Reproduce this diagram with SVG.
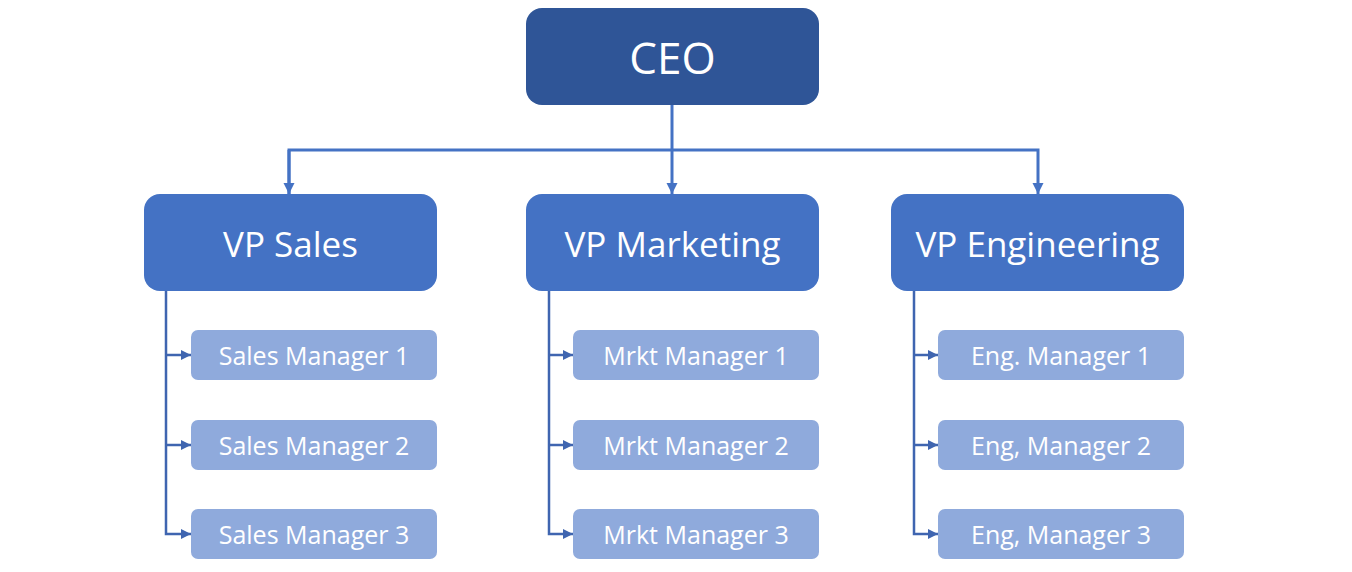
<svg xmlns="http://www.w3.org/2000/svg" width="1352" height="572" viewBox="0 0 1352 572">
<style>
.ceo{fill:#2F5597}
.vp{fill:#4472C4}
.mg{fill:#8FAADC}
text{font-family:"Open Sans","Noto Sans",sans-serif;fill:#fff;text-anchor:middle;dominant-baseline:central}
.t1{font-size:44px}
.t2{font-size:35px}
.t3{font-size:25px}
.c1{fill:none;stroke:#4472C4;stroke-width:3}
.c2{fill:none;stroke:#3F65B0;stroke-width:2.5}
</style>
<defs>
<marker id="a1" viewBox="0 0 10 10" refX="10" refY="5" markerWidth="11" markerHeight="12" markerUnits="userSpaceOnUse" orient="auto"><path d="M0,0 L10,5 L0,10 Z" fill="#4472C4"/></marker>
<marker id="a2" viewBox="0 0 10 10" refX="10" refY="5" markerWidth="10" markerHeight="11" markerUnits="userSpaceOnUse" orient="auto"><path d="M0,0 L10,5 L0,10 Z" fill="#3F65B0"/></marker>
</defs>
<g id="connectors">
<path class="c1" d="M672,105 V194" marker-end="url(#a1)"/>
<path class="c1" d="M289,194 V150 H1038 V194" marker-end="url(#a1)"/>
<path class="c1" d="M289,150 V194" marker-end="url(#a1)"/>
<path class="c2" d="M166,291 V534 H191" marker-end="url(#a2)"/>
<path class="c2" d="M166,355 H191" marker-end="url(#a2)"/>
<path class="c2" d="M166,445 H191" marker-end="url(#a2)"/>
<path class="c2" d="M549,291 V534 H573" marker-end="url(#a2)"/>
<path class="c2" d="M549,355 H573" marker-end="url(#a2)"/>
<path class="c2" d="M549,445 H573" marker-end="url(#a2)"/>
<path class="c2" d="M914,291 V534 H938" marker-end="url(#a2)"/>
<path class="c2" d="M914,355 H938" marker-end="url(#a2)"/>
<path class="c2" d="M914,445 H938" marker-end="url(#a2)"/>
</g>
<g id="ceo"><rect class="ceo" x="526" y="8" width="293" height="97" rx="16"/><text class="t1" x="672.5" y="57">CEO</text></g>
<g id="vp-sales"><rect class="vp" x="144" y="194" width="293" height="97" rx="16"/><text class="t2" x="290.5" y="243">VP Sales</text></g>
<g id="vp-marketing"><rect class="vp" x="526" y="194" width="293" height="97" rx="16"/><text class="t2" x="672.5" y="243">VP Marketing</text></g>
<g id="vp-engineering"><rect class="vp" x="891" y="194" width="293" height="97" rx="16"/><text class="t2" x="1037.5" y="243">VP Engineering</text></g>
<g id="sales-m1"><rect class="mg" x="191" y="330" width="246" height="50" rx="7"/><text class="t3" x="314" y="355">Sales Manager 1</text></g>
<g id="sales-m2"><rect class="mg" x="191" y="420" width="246" height="50" rx="7"/><text class="t3" x="314" y="445">Sales Manager 2</text></g>
<g id="sales-m3"><rect class="mg" x="191" y="509" width="246" height="50" rx="7"/><text class="t3" x="314" y="534">Sales Manager 3</text></g>
<g id="mrkt-m1"><rect class="mg" x="573" y="330" width="246" height="50" rx="7"/><text class="t3" x="696" y="355">Mrkt Manager 1</text></g>
<g id="mrkt-m2"><rect class="mg" x="573" y="420" width="246" height="50" rx="7"/><text class="t3" x="696" y="445">Mrkt Manager 2</text></g>
<g id="mrkt-m3"><rect class="mg" x="573" y="509" width="246" height="50" rx="7"/><text class="t3" x="696" y="534">Mrkt Manager 3</text></g>
<g id="eng-m1"><rect class="mg" x="938" y="330" width="246" height="50" rx="7"/><text class="t3" x="1061" y="355">Eng. Manager 1</text></g>
<g id="eng-m2"><rect class="mg" x="938" y="420" width="246" height="50" rx="7"/><text class="t3" x="1061" y="445">Eng, Manager 2</text></g>
<g id="eng-m3"><rect class="mg" x="938" y="509" width="246" height="50" rx="7"/><text class="t3" x="1061" y="534">Eng, Manager 3</text></g>
</svg>
